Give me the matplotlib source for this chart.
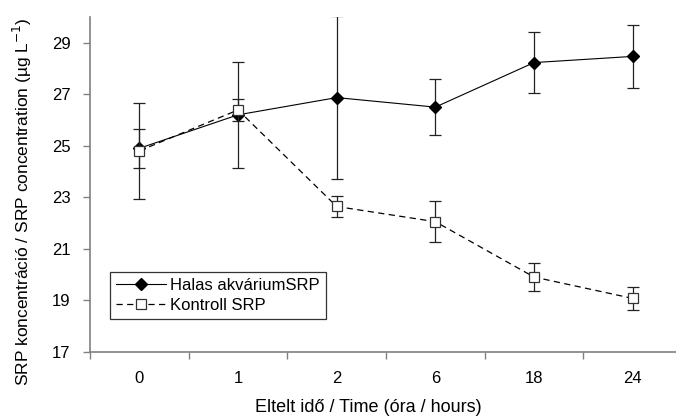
import matplotlib
matplotlib.use('Agg')
import matplotlib.pyplot as plt
import numpy as np

plt.rcParams['font.family'] = ['Liberation Sans', 'DejaVu Sans']

# data
time_labels = ['0', '1', '2', '6', '18', '24']
halas = [24.9, 26.2, 26.87, 26.5, 28.23, 28.47]
halas_err = [0.75, 2.07, 3.15, 1.1, 1.2, 1.22]
kontroll = [24.8, 26.39, 22.64, 22.05, 19.9, 19.07]
kontroll_err = [1.87, 0.42, 0.4, 0.79, 0.56, 0.46]

grey = '#808080'

fig = plt.figure(figsize=(6.76, 4.16), dpi=100)
ax = fig.add_axes([0.1331, 0.1546, 0.8758, 0.8045])

x = np.arange(len(time_labels))

c1 = ax.errorbar(x, halas, yerr=halas_err, color='black', lw=0.8,
                 marker='D', ms=6.5, mfc='black', mec='black',
                 ecolor='#222222', elinewidth=0.9, capsize=4, capthick=0.9,
                 label='Halas akváriumSRP', zorder=3)
c2 = ax.errorbar(x, kontroll, yerr=kontroll_err, color='black', lw=0.9,
                 ls=(0, (5, 3.5)), marker='s', ms=7.5, mfc='white', mec='#333333',
                 mew=0.9, ecolor='#222222', elinewidth=0.9, capsize=4, capthick=0.9,
                 label='Kontroll SRP', zorder=4)

ax.set_xlim(-0.5, 5.5)
ax.set_ylim(17, 30)
ax.set_yticks(np.arange(17, 30, 2))
ax.set_xticks(x)
ax.set_xticklabels(time_labels)
ax.set_xticks(np.arange(-0.5, 6, 1), minor=True)
ax.tick_params(axis='x', which='major', length=0, pad=14, labelsize=12)
ax.tick_params(axis='x', which='minor', length=5, width=1, color=grey, direction='out')
ax.tick_params(axis='y', length=5, width=1, color=grey, direction='out', labelsize=12, pad=9)

for side in ['top', 'right']:
    ax.spines[side].set_visible(False)
for side in ['left', 'bottom']:
    ax.spines[side].set_color(grey)
    ax.spines[side].set_linewidth(1.2)

ax.set_xlabel('Eltelt idő / Time (óra / hours)', fontsize=13)
ax.xaxis.set_label_coords(0.470, -0.142)
ax.set_ylabel('SRP koncentráció / SRP concentration (µg L$^{-1}$)', fontsize=12.5)
ax.yaxis.set_label_coords(-0.095, 0.447)

leg = ax.legend(handles=[c1.lines[0], c2.lines[0]],
                labels=['Halas akváriumSRP', 'Kontroll SRP'],
                loc='lower left', bbox_to_anchor=(0.034, 0.098), borderaxespad=0,
                fontsize=12, handlelength=3.0, handletextpad=0.25, fancybox=False,
                framealpha=1, borderpad=0.35, labelspacing=0.3)
leg.get_frame().set_edgecolor('#333333')
leg.get_frame().set_linewidth(0.9)

fig.savefig('out.png', dpi=100)
